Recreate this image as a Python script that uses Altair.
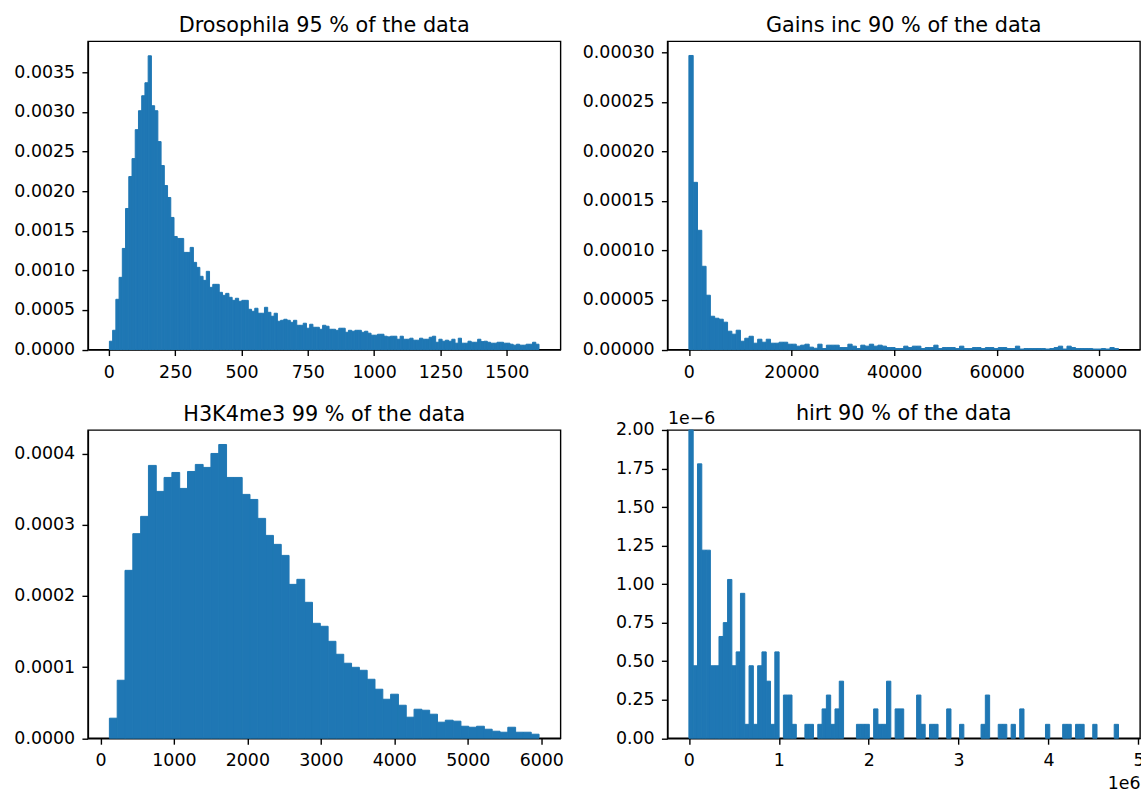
import altair as alt
import numpy as np
import pandas as pd

BLUE = "#1f77b4"
FONT = "DejaVu Sans"
TICK_FS = 17.4
TITLE_FS = 20.8
LW = 1.39
W, H = 473, 308.5

# ---- Drosophila: 133 equal bins between 2 and 1622, density per bin
dros_range = (2.0, 1622.0)
dros_density = [
    1.05e-4, 2.43e-4, 6.34e-4, 9.11e-4, 12.76e-4, 17.8e-4, 21.83e-4, 24.10e-4, 27.75e-4, 30.14e-4,
    32.03e-4, 33.67e-4, 37.07e-4, 30.77e-4, 30.14e-4, 26.24e-4, 23.22e-4, 20.70e-4, 19.19e-4, 16.67e-4,
    14.27e-4, 14.02e-4, 14.02e-4, 12.26e-4, 12.26e-4, 12.89e-4, 11.0e-4, 10.37e-4, 9.24e-4, 8.73e-4,
    9.87e-4, 7.85e-4, 8.23e-4, 8.23e-4, 7.22e-4, 6.84e-4, 7.09e-4, 6.59e-4, 6.21e-4, 6.47e-4,
    6.09e-4, 6.21e-4, 6.21e-4, 5.08e-4, 4.83e-4, 5.21e-4, 4.58e-4, 4.58e-4, 5.33e-4, 4.70e-4,
    4.20e-4, 4.58e-4, 3.57e-4, 3.69e-4, 3.82e-4, 3.69e-4, 3.44e-4, 3.69e-4, 3.06e-4, 3.06e-4,
    3.32e-4, 2.69e-4, 3.19e-4, 2.81e-4, 2.81e-4, 2.56e-4, 3.06e-4, 2.94e-4, 2.56e-4, 2.56e-4,
    2.43e-4, 2.69e-4, 2.69e-4, 2.18e-4, 2.43e-4, 2.31e-4, 2.43e-4, 2.43e-4, 2.18e-4, 2.31e-4,
    2.06e-4, 1.81e-4, 1.81e-4, 1.93e-4, 1.93e-4, 1.68e-4, 1.60e-4, 1.68e-4, 1.68e-4, 1.30e-4,
    1.68e-4, 1.30e-4, 1.30e-4, 1.43e-4, 1.18e-4, 1.18e-4, 1.43e-4, 1.30e-4, 1.30e-4, 1.55e-4,
    1.68e-4, 0.92e-4, 1.30e-4, 1.05e-4, 1.18e-4, 1.05e-4, 1.30e-4, 0.80e-4, 1.43e-4, 0.80e-4,
    0.80e-4, 1.05e-4, 0.92e-4, 0.92e-4, 1.30e-4, 1.00e-4, 1.05e-4, 0.92e-4, 0.80e-4, 0.80e-4,
    0.92e-4, 0.92e-4, 0.80e-4, 0.80e-4, 0.67e-4, 0.55e-4, 0.67e-4, 0.55e-4, 0.55e-4, 0.67e-4,
    0.67e-4, 0.92e-4, 0.67e-4,
]

# ---- Gains inc: 100 equal bins between 0 and 83750
gains_range = (0.0, 83750.0)
gains_density = [
    29.67e-5, 16.87e-5, 12.03e-5, 8.40e-5, 5.48e-5, 3.36e-5, 3.16e-5, 3.06e-5, 2.76e-5, 1.85e-5,
    1.55e-5, 1.95e-5, 0.84e-5, 1.14e-5, 1.34e-5, 0.64e-5, 1.04e-5, 0.74e-5, 1.04e-5, 0.64e-5,
    0.64e-5, 0.74e-5, 0.74e-5, 0.54e-5, 0.54e-5, 0.34e-5, 0.44e-5, 0.54e-5, 0.24e-5, 0.13e-5,
    0.54e-5, 0.10e-5, 0.44e-5, 0.44e-5, 0.44e-5, 0.20e-5, 0.20e-5, 0.54e-5, 0.34e-5, 0.10e-5,
    0.44e-5, 0.34e-5, 0.54e-5, 0.34e-5, 0.44e-5, 0.34e-5, 0.20e-5, 0.20e-5, 0.10e-5, 0.10e-5,
    0.34e-5, 0.20e-5, 0.34e-5, 0.34e-5, 0.10e-5, 0.20e-5, 0.20e-5, 0.44e-5, 0.10e-5, 0.20e-5,
    0.20e-5, 0.20e-5, 0.10e-5, 0.34e-5, 0.10e-5, 0.10e-5, 0.20e-5, 0.20e-5, 0.10e-5, 0.20e-5,
    0.20e-5, 0.10e-5, 0.20e-5, 0.20e-5, 0.10e-5, 0.10e-5, 0.34e-5, 0.05e-5, 0.10e-5, 0.10e-5,
    0.10e-5, 0.10e-5, 0.10e-5, 0.05e-5, 0.10e-5, 0.20e-5, 0.34e-5, 0.05e-5, 0.34e-5, 0.20e-5,
    0.10e-5, 0.10e-5, 0.10e-5, 0.10e-5, 0.05e-5, 0.05e-5, 0.10e-5, 0.05e-5, 0.20e-5, 0.10e-5,
]

# ---- H3K4me3: 55 equal bins between 122 and 5970
h3k_range = (122.0, 5970.0)
h3k_density = [
    0.281e-4, 0.814e-4, 2.358e-4, 2.873e-4, 3.116e-4, 3.832e-4, 3.467e-4, 3.663e-4, 3.733e-4, 3.509e-4,
    3.747e-4, 3.846e-4, 3.804e-4, 4.000e-4, 4.126e-4, 3.663e-4, 3.663e-4, 3.425e-4, 3.354e-4, 3.088e-4,
    2.849e-4, 2.723e-4, 2.568e-4, 2.161e-4, 2.232e-4, 1.909e-4, 1.614e-4, 1.572e-4, 1.361e-4, 1.179e-4,
    1.053e-4, 0.996e-4, 0.954e-4, 0.828e-4, 0.688e-4, 0.547e-4, 0.618e-4, 0.463e-4, 0.295e-4, 0.407e-4,
    0.393e-4, 0.337e-4, 0.225e-4, 0.253e-4, 0.239e-4, 0.168e-4, 0.154e-4, 0.168e-4, 0.126e-4, 0.098e-4,
    0.084e-4, 0.154e-4, 0.084e-4, 0.084e-4, 0.056e-4,
]

# ---- hirt: 100 equal bins between 0 and 4.778 (x in units of 1e6, density in units of 1e-6)
hirt_range = (0.0, 4.778)
hirt_density = [
    2.00, 0.47, 1.78, 1.22, 1.22, 0.47, 0.47, 0.66, 0.75, 1.03,
    0.47, 0.56, 0.94, 0.09, 0.47, 0.09, 0.47, 0.56, 0.37, 0.09,
    0.56, 0.00, 0.28, 0.28, 0.09, 0.00, 0.00, 0.09, 0.09, 0.00,
    0.09, 0.19, 0.28, 0.09, 0.19, 0.37, 0.00, 0.00, 0.00, 0.09,
    0.09, 0.09, 0.00, 0.19, 0.09, 0.09, 0.37, 0.00, 0.19, 0.19,
    0.00, 0.00, 0.00, 0.28, 0.09, 0.00, 0.09, 0.09, 0.00, 0.00,
    0.19, 0.00, 0.00, 0.09, 0.00, 0.00, 0.00, 0.00, 0.09, 0.28,
    0.00, 0.00, 0.09, 0.09, 0.00, 0.09, 0.00, 0.19, 0.00, 0.00,
    0.00, 0.00, 0.00, 0.09, 0.00, 0.00, 0.00, 0.09, 0.09, 0.00,
    0.09, 0.09, 0.00, 0.00, 0.09, 0.00, 0.00, 0.00, 0.00, 0.09,
]


def hist_frame(values, rng):
    edges = np.linspace(rng[0], rng[1], len(values) + 1)
    df = pd.DataFrame({"x0": edges[:-1], "x1": edges[1:], "density": values})
    return df[df["density"] > 0]  # empty bins draw nothing


def title_params(text, dy):
    return alt.TitleParams(
        text=text, font=FONT, fontSize=TITLE_FS, fontWeight="normal", color="black",
        anchor="middle", frame="group", baseline="alphabetic", offset=10.4, dy=dy,
    )


def panel(values, rng, title, xdom, xticks, xfmt, ydom, yticks, yfmt,
          xaxis_extra=None, yaxis_extra=None, title_dy=22):
    xaxis = dict(values=xticks, format=xfmt, title=None)
    yaxis = dict(values=yticks, format=yfmt, title=None)
    if xaxis_extra:
        xaxis.update(xaxis_extra)
    if yaxis_extra:
        yaxis.update(yaxis_extra)
    return (
        alt.Chart(hist_frame(values, rng))
        .mark_rect(color=BLUE, stroke=BLUE, strokeWidth=1)
        .encode(
            x=alt.X("x0:Q", scale=alt.Scale(domain=xdom, nice=False, zero=False), axis=alt.Axis(**xaxis)),
            x2="x1:Q",
            y=alt.Y("density:Q", scale=alt.Scale(domain=ydom, nice=False), axis=alt.Axis(**yaxis)),
            y2=alt.datum(0),
        )
        .properties(width=W, height=H, title=title_params(title, title_dy))
    )


offset_title = dict(titleFont=FONT, titleFontSize=TICK_FS, titleFontWeight="normal", titleColor="black")

p1 = panel(dros_density, dros_range, "Drosophila 95 % of the data",
           [-79, 1703], [0, 250, 500, 750, 1000, 1250, 1500], "d",
           [0, 0.00389], [0, 0.0005, 0.001, 0.0015, 0.002, 0.0025, 0.003, 0.0035], ".4f")
p2 = panel(gains_density, gains_range, "Gains inc 90 % of the data",
           [-4188, 87938], [0, 20000, 40000, 60000, 80000], "d",
           [0, 0.000311], [0, 0.00005, 0.0001, 0.00015, 0.0002, 0.00025, 0.0003], ".5f")
p3 = panel(h3k_density, h3k_range, "H3K4me3 99 % of the data",
           [-170, 6262], [0, 1000, 2000, 3000, 4000, 5000, 6000], "d",
           [0, 0.000433], [0, 0.0001, 0.0002, 0.0003, 0.0004], ".4f")
p4 = panel(hirt_density, hirt_range, "hirt 90 % of the data",
           [-0.239, 5.017], [0, 1, 2, 3, 4, 5], "d",
           [0, 2.0], [0, 0.25, 0.5, 0.75, 1.0, 1.25, 1.5, 1.75, 2.0], ".2f",
           xaxis_extra=dict(title="1e6", titleAnchor="end", titleAlign="right",
                            titleBaseline="alphabetic", titleY=50, **offset_title),
           yaxis_extra=dict(title="1e\u22126", titleAngle=0, titleAlign="left",
                            titleBaseline="alphabetic", titleX=0, titleY=-6, **offset_title),
           title_dy=41.5)

chart = (
    alt.concat(p1, p2, p3, p4, columns=2, spacing={"row": 80, "column": 107}, bounds="flush")
    .properties(padding={"left": 13, "top": 14, "right": -4, "bottom": -3}, background="white")
    .configure_view(stroke="black", strokeWidth=LW)
    .configure_axis(
        grid=False,
        domainColor="black", domainWidth=LW,
        tickColor="black", tickWidth=LW, tickSize=6,
        labelFont=FONT, labelFontSize=TICK_FS, labelColor="black",
        labelFlush=False, labelOverlap=False,
    )
    .configure_axisX(labelPadding=7.5)
    .configure_axisY(labelPadding=7.3)
)

chart.save("out.html", embed_options={"renderer": "svg", "actions": False})
